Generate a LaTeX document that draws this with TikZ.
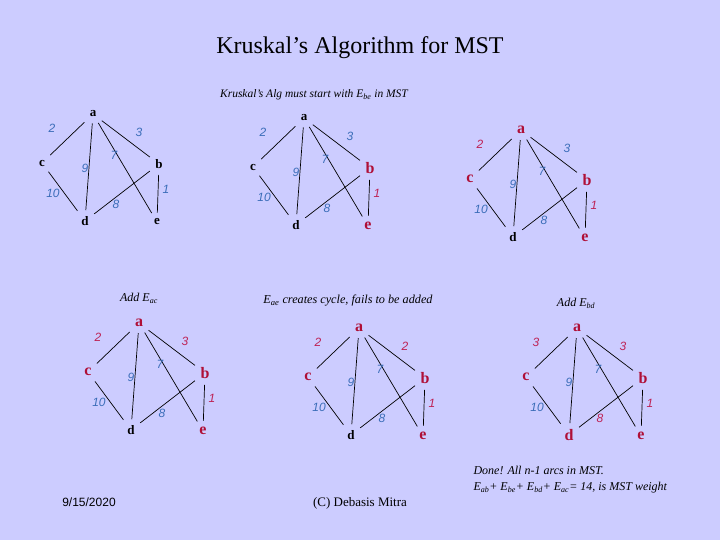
\documentclass[tikz,border=0pt]{standalone}
\usepackage{fontspec}
\setmainfont{Liberation Serif}
\setsansfont{Liberation Sans}
\definecolor{slide}{RGB}{204,204,255}
\definecolor{kred}{RGB}{175,15,55}
\definecolor{kpink}{RGB}{190,35,85}
\definecolor{kblue}{RGB}{60,110,185}

\tikzset{
	vertex/.style={font=\bfseries\fontsize{13}{13}\selectfont, inner sep=3pt},
	hot/.style={vertex, text=kred, font=\bfseries\fontsize{16}{16}\selectfont},
	weight/.style={text=kblue, font=\sffamily\itshape\fontsize{12}{12}\selectfont, inner sep=0pt},
	hotw/.style={weight, text=kpink},
	edge/.style={draw, line width=0.7pt, shorten <=3pt, shorten >=3pt},
	note/.style={font=\itshape\fontsize{11.5}{13}\selectfont},
	va/.style={vertex}, vb/.style={vertex}, vc/.style={vertex},
	vd/.style={vertex}, ve/.style={vertex},
	wab/.style={weight}, wac/.style={weight}, wad/.style={weight}, wae/.style={weight},
	wbd/.style={weight}, wbe/.style={weight}, wcd/.style={weight}
}

% one copy of the graph: #1 prefix, #2 scope options, #3 weight ab, #4 weight ac
\newcommand{\kgraph}[4]{%
\begin{scope}[#2]
\node[va] (#1a) at (0,0) {a};
\node[vb] (#1b) at (66,50) {b};
\node[vc] (#1c) at (-51,49) {c};
\node[vd] (#1d) at (-8,107) {d};
\node[ve] (#1e) at (64,108) {e};
\draw[edge] (#1a) -- (#1c);
\draw[edge] (#1a) -- (#1b);
\draw[edge] (#1a) -- (#1d);
\draw[edge] (#1a) -- (#1e);
\draw[edge] (#1b) -- (#1e);
\draw[edge] (#1c) -- (#1d);
\draw[edge] (#1d) -- (#1b);
\node[wac] (#1wac) at (-41,14) {#4};
\node[wab] (#1wab) at (46,18) {#3};
\node[wae] (#1wae) at (21,41) {7};
\node[wad] (#1wad) at (-8,54) {9};
\node[wbe] (#1wbe) at (73,75) {1};
\node[wcd] (#1wcd) at (-40,79) {10};
\node[wbd] (#1wbd) at (23,90) {8};
\end{scope}}

\begin{document}
\begin{tikzpicture}[x=1pt, y=-1pt]
\fill[slide] (0,0) rectangle (720,540);
\useasboundingbox (0,0) rectangle (720,540);

\node[font=\fontsize{24}{28}\selectfont] (title) at (360,48) {Kruskal's Algorithm for MST};
\node[note] (start) at (314,95) {Kruskal's Alg must start with E\textsubscript{be} in MST};
\node[note, font=\itshape\fontsize{12}{14}\selectfont] (addac) at (139,298) {Add E\textsubscript{ac}};
\node[note, font=\itshape\fontsize{12.2}{14}\selectfont] (cycle) at (348,301) {E\textsubscript{ae} creates cycle, fails to be added};
\node[note, font=\itshape\fontsize{12}{14}\selectfont] (addbd) at (576,303) {Add E\textsubscript{bd}};
\node[note, font=\itshape\fontsize{12}{16}\selectfont, align=left, anchor=north west] (done) at (470,463)
	{Done! All n-1 arcs in MST.\\ E\textsubscript{ab}+ E\textsubscript{be}+ E\textsubscript{bd}+ E\textsubscript{ac}= 14, is MST weight};
\node[font=\sffamily\fontsize{12}{14}\selectfont] (date) at (89,502) {9/15/2020};
\node[font=\fontsize{13}{15}\selectfont] (credit) at (360,503) {(C) Debasis Mitra};

\kgraph{p}{shift={(93,114)}}{3}{2}
\kgraph{q}{shift={(304,118)}, vb/.style={hot}, ve/.style={hot}, wbe/.style={hotw}}{3}{2}
\kgraph{r}{shift={(521,130)}, va/.style={hot}, vb/.style={hot}, vc/.style={hot}, ve/.style={hot},
	wac/.style={hotw}, wbe/.style={hotw}}{3}{2}
\kgraph{s}{shift={(139,323)}, va/.style={hot}, vb/.style={hot}, vc/.style={hot}, ve/.style={hot},
	wac/.style={hotw}, wab/.style={hotw}, wbe/.style={hotw}}{3}{2}
\kgraph{t}{shift={(359,328)}, va/.style={hot}, vb/.style={hot}, vc/.style={hot}, ve/.style={hot},
	wac/.style={hotw}, wab/.style={hotw}, wbe/.style={hotw}}{2}{2}
\kgraph{u}{shift={(577,328)}, va/.style={hot}, vb/.style={hot}, vc/.style={hot}, vd/.style={hot}, ve/.style={hot},
	wac/.style={hotw}, wab/.style={hotw}, wbe/.style={hotw}, wbd/.style={hotw}}{3}{3}
\end{tikzpicture}
\end{document}
